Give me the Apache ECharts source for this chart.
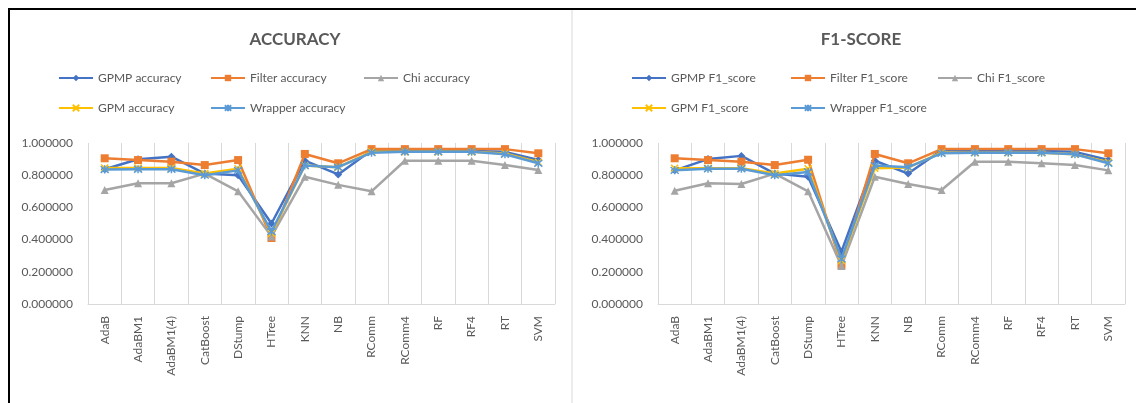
<!DOCTYPE html>
<html>
<head>
<meta charset="utf-8">
<script src="https://cdn.jsdelivr.net/npm/echarts@6/dist/echarts.min.js"></script>
<style>
html,body{margin:0;padding:0;background:#fff;}
#c{width:1136px;height:403px;}
</style>
</head>
<body>
<div id="c"></div>
<script>
// ---- data ----
const categories = ['AdaB','AdaBM1','AdaBM1(4)','CatBoost','DStump','HTree','KNN','NB','RComm','RComm4','RF','RF4','RT','SVM'];
const yTicks = [0, 0.2, 0.4, 0.6, 0.8, 1.0];

const accGPMP    = [0.837, 0.899, 0.915, 0.810, 0.800, 0.500, 0.890, 0.805, 0.955, 0.950, 0.950, 0.950, 0.945, 0.894];
const accFilter  = [0.905, 0.894, 0.884, 0.863, 0.894, 0.410, 0.932, 0.874, 0.962, 0.962, 0.962, 0.962, 0.962, 0.936];
const accChi     = [0.708, 0.750, 0.750, 0.810, 0.700, 0.420, 0.790, 0.740, 0.700, 0.890, 0.890, 0.890, 0.863, 0.832];
const accGPM     = [0.845, 0.845, 0.845, 0.810, 0.840, 0.440, 0.860, 0.850, 0.945, 0.945, 0.945, 0.945, 0.935, 0.880];
const accWrapper = [0.835, 0.837, 0.837, 0.800, 0.830, 0.450, 0.860, 0.850, 0.940, 0.945, 0.945, 0.945, 0.930, 0.874];

const f1GPMP    = [0.830, 0.900, 0.920, 0.810, 0.790, 0.325, 0.890, 0.810, 0.955, 0.950, 0.950, 0.950, 0.945, 0.894];
const f1Filter  = [0.905, 0.894, 0.884, 0.863, 0.896, 0.240, 0.932, 0.874, 0.962, 0.962, 0.962, 0.962, 0.962, 0.936];
const f1Chi     = [0.704, 0.750, 0.745, 0.810, 0.700, 0.236, 0.790, 0.745, 0.708, 0.884, 0.884, 0.874, 0.863, 0.830];
const f1GPM     = [0.843, 0.843, 0.843, 0.810, 0.840, 0.270, 0.843, 0.848, 0.940, 0.940, 0.940, 0.940, 0.930, 0.880];
const f1Wrapper = [0.830, 0.840, 0.840, 0.800, 0.820, 0.280, 0.860, 0.850, 0.936, 0.940, 0.940, 0.940, 0.930, 0.874];

const titles = ['ACCURACY', 'F1-SCORE'];
const accNames = ['GPMP accuracy','Filter accuracy','Chi accuracy','GPM accuracy','Wrapper accuracy'];
const f1Names  = ['GPMP F1_score','Filter F1_score','Chi F1_score','GPM F1_score','Wrapper F1_score'];

// ---- styling ----
const FONT = 'Lato, "Liberation Sans", sans-serif';
const TXT = '#595959';
const colors = ['#4472C4','#ED7D31','#A5A5A5','#FFC000','#5B9BD5'];
const symbols = [
  'diamond',
  'rect',
  'triangle',
  'path://M0,0L10,10M0,10L10,0',
  'path://M0,0L10,10M0,10L10,0M5,-1L5,11'
];
const symbolSizes = [8, 8, 8, 7, 8];

const panels = [
  {gridLeft: 88, title: titles[0], titleX: 290, names: accNames,
   data: [accGPMP, accFilter, accChi, accGPM, accWrapper], legX: [58, 210, 363]},
  {gridLeft: 658, title: titles[1], titleX: 856, names: f1Names,
   data: [f1GPMP, f1Filter, f1Chi, f1GPM, f1Wrapper], legX: [631, 790, 937]}
];

const option = {
  animation: false,
  backgroundColor: '#fff',
  title: [], legend: [], grid: [], xAxis: [], yAxis: [], series: [],
  graphic: [
    {type: 'rect', shape: {x: 9, y: 9, width: 1160, height: 420},
     style: {fill: 'none', stroke: '#000', lineWidth: 2}, z: 100},
    {type: 'line', shape: {x1: 572, y1: 10, x2: 572, y2: 403},
     style: {stroke: '#d9d9d9', lineWidth: 1}, z: 100}
  ]
};

panels.forEach((p, pi) => {
  option.title.push({
    text: p.title, left: p.titleX, top: 26, textAlign: 'center',
    textStyle: {fontFamily: FONT, fontWeight: 'bold', fontSize: 17, color: TXT}
  });
  option.grid.push({left: p.gridLeft, width: 467, top: 143, height: 161});
  option.xAxis.push({
    type: 'category', gridIndex: pi, data: categories, boundaryGap: true,
    axisLine: {lineStyle: {color: '#d9d9d9'}},
    axisTick: {show: false},
    splitLine: {show: true, interval: 0, lineStyle: {color: '#d9d9d9', width: 1}},
    axisLabel: {rotate: 90, interval: 0, margin: 12, color: TXT, fontFamily: FONT, fontSize: 12}
  });
  option.yAxis.push({
    type: 'value', gridIndex: pi, min: yTicks[0], max: yTicks[yTicks.length - 1], interval: 0.2,
    axisLine: {show: false}, axisTick: {show: false}, splitLine: {show: false},
    axisLabel: {margin: 15, color: TXT, fontFamily: FONT, fontSize: 12,
      formatter: v => v.toFixed(6)}
  });
  p.names.forEach((nm, si) => {
    option.series.push({
      name: nm, type: 'line', xAxisIndex: pi, yAxisIndex: pi,
      data: p.data[si],
      symbol: symbols[si], symbolSize: symbolSizes[si],
      lineStyle: {color: colors[si], width: 2.5},
      itemStyle: {color: colors[si], borderColor: colors[si], borderWidth: si >= 3 ? 1.5 : 0},
      z: 2 + si
    });
    const row = si < 3 ? 0 : 1;
    const col = si < 3 ? si : si - 3;
    option.legend.push({
      data: [nm], left: p.legX[col], top: row === 0 ? 72 : 102,
      itemWidth: 34, itemHeight: 8, padding: 0,
      textStyle: {fontFamily: FONT, fontSize: 12, color: TXT}
    });
  });
});

const chart = echarts.init(document.getElementById('c'), null, {renderer: 'canvas'});
chart.setOption(option);
</script>
</body>
</html>
